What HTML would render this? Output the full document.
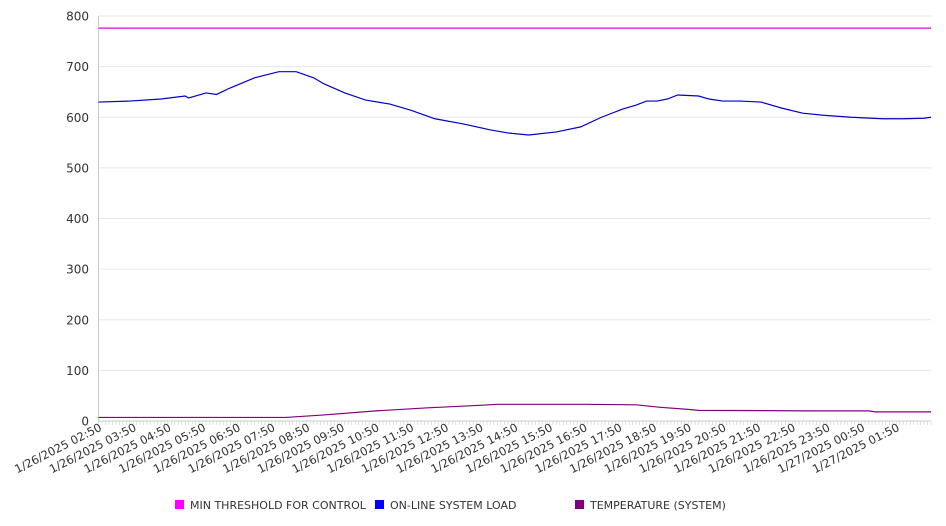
<!DOCTYPE html>
<html><head><meta charset="utf-8"><style>
body{margin:0;background:#fff;}
svg{display:block;font-family:"DejaVu Sans","Liberation Sans",sans-serif;}
</style></head><body>
<svg id="chart" width="946" height="526"></svg>
<script>
const xLabels=["1/26/2025 02:50","1/26/2025 03:50","1/26/2025 04:50","1/26/2025 05:50","1/26/2025 06:50","1/26/2025 07:50","1/26/2025 08:50","1/26/2025 09:50","1/26/2025 10:50","1/26/2025 11:50","1/26/2025 12:50","1/26/2025 13:50","1/26/2025 14:50","1/26/2025 15:50","1/26/2025 16:50","1/26/2025 17:50","1/26/2025 18:50","1/26/2025 19:50","1/26/2025 20:50","1/26/2025 21:50","1/26/2025 22:50","1/26/2025 23:50","1/27/2025 00:50","1/27/2025 01:50"];
const yTicks=[0,100,200,300,400,500,600,700,800];
const loadHours=[0,0.9,1.8,2.5,2.6,3.1,3.4,3.8,4.5,5.2,5.7,6.2,6.5,7.1,7.7,8.4,9.0,9.7,10.5,11.3,11.8,12.4,13.2,13.9,14.5,15.1,15.5,15.8,16.1,16.4,16.7,17.3,17.6,18.0,18.5,19.1,19.7,20.3,20.9,21.7,22.6,23.2,23.8,24];
const loadValues=[630,632,636,642,638,648,645,658,678,690,690,678,666,648,634,626,614,597,587,575,569,565,571,581,600,616,624,632,632,636,644,642,636,632,632,630,618,608,604,600,597,597,598,600];
const thrHours=[0,24];
const thrValues=[776,776];
const tempHours=[0,5.4,6.5,8,9.5,11,11.5,13,14,15.5,16.2,17,17.3,20.5,22.2,22.4,24];
const tempValues=[7,7,12,20,26,31,33,33,33,32,27,23,21,20,20,18,18];
const X0=98.5,X1=931,Y0=421,Y1=16;
const sx=h=>X0+(X1-X0)*h/24;
const sy=v=>Y0-(Y0-Y1)*v/800;
const svg=document.getElementById('chart');
const NS='http://www.w3.org/2000/svg';
function mk(tag,attrs,parent){const e=document.createElementNS(NS,tag);for(const k in attrs)e.setAttribute(k,attrs[k]);(parent||svg).appendChild(e);return e;}
yTicks.forEach(v=>{
  const g=mk('line',{x1:X0,x2:X1,y1:sy(v),y2:sy(v),stroke:'#e6e6e6','stroke-width':1});
  
  
  const t=mk('text',{x:89,y:sy(v)+4.5,'text-anchor':'end','font-size':12,fill:'#333'});
  t.textContent=v;
  
  
});
const ax=mk('line',{x1:X0,x2:X0,y1:Y1,y2:Y0,stroke:'#ccc'});


const xax=mk('line',{x1:X0,x2:X1,y1:Y0,y2:Y0,stroke:'#ccc'});


for(let i=0;i<=240;i++){const x=sx(i/10);
  const tk=mk('line',{x1:x,x2:x,y1:Y0,y2:Y0+4,stroke:'#ccc','stroke-width':0.6});
  
  
}
xLabels.forEach((l,i)=>{const x=sx(i)+4,y=Y0+9;
  const t=mk('text',{x:x,y:y,'text-anchor':'end','font-size':11.5,fill:'#333',transform:`rotate(-27 ${x} ${y})`});
  t.textContent=l;
  
  
});
function line(hs,vs,color,name){
  const p=mk('polyline',{points:hs.map((h,i)=>sx(h)+','+sy(vs[i])).join(' '),fill:'none',stroke:color,'stroke-width':1.2});
  
  
}
line(thrHours,thrValues,'#e000e0','min-threshold-line');
line(tempHours,tempValues,'#800080','temperature-line');
line(loadHours,loadValues,'#0000cc','online-system-load-line');
const leg=[['#ff00ff','MIN THRESHOLD FOR CONTROL',175],['#0000ff','ON-LINE SYSTEM LOAD',375],['#800080','TEMPERATURE (SYSTEM)',575]];
leg.forEach(([c,t,x])=>{
  const g=mk('g',{});
  
  
  mk('rect',{x:x,y:500,width:9,height:9,fill:c},g);
  const tx=mk('text',{x:x+15,y:509,'font-size':11,fill:'#333'},g);
  tx.textContent=t;
});
</script>
</body></html>
